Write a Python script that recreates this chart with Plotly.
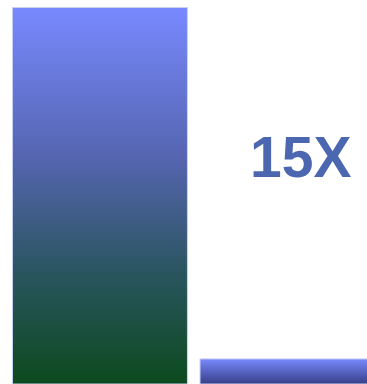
import plotly.graph_objects as go

categories = ["A", "B"]
values = [15, 1]
label_text = "15X"

bar_width = 0.933
colorscales = [
    [[0, "#0c4a1e"], [0.3, "#2a5560"], [0.6, "#5565b0"], [1, "#7889ff"]],
    [[0, "#363f88"], [1, "#7889fc"]],
]

fig = go.Figure()
for i, (cat, v) in enumerate(zip(categories, values)):
    x0, x1 = i - bar_width / 2, i + bar_width / 2
    fig.add_trace(go.Scatter(
        x=[x0, x1, x1, x0, x0],
        y=[0, 0, v, v, 0],
        mode="lines",
        fill="toself",
        fillgradient=dict(type="vertical", colorscale=colorscales[i], start=0, stop=v),
        line=dict(color="#c9d0f5", width=1),
        hoverinfo="skip",
        showlegend=False,
    ))

fig.add_annotation(
    x=1.072, y=9.04, xref="x", yref="y",
    text=f"<b>{label_text}</b>", showarrow=False,
    font=dict(family="Liberation Sans, Arial", size=57, color="#4a67b0"),
)

fig.update_layout(
    width=367, height=384,
    margin=dict(l=0, r=0, t=0, b=0),
    paper_bgcolor="white", plot_bgcolor="white",
    xaxis=dict(range=[-0.533, 1.424], visible=False, fixedrange=True),
    yaxis=dict(range=[0, 15.3], visible=False, fixedrange=True),
    showlegend=False,
)

fig.write_html(
    "out.html",
    config={"displayModeBar": False},
    post_script="document.body.style.margin='0';document.body.style.overflow='hidden';",
)
